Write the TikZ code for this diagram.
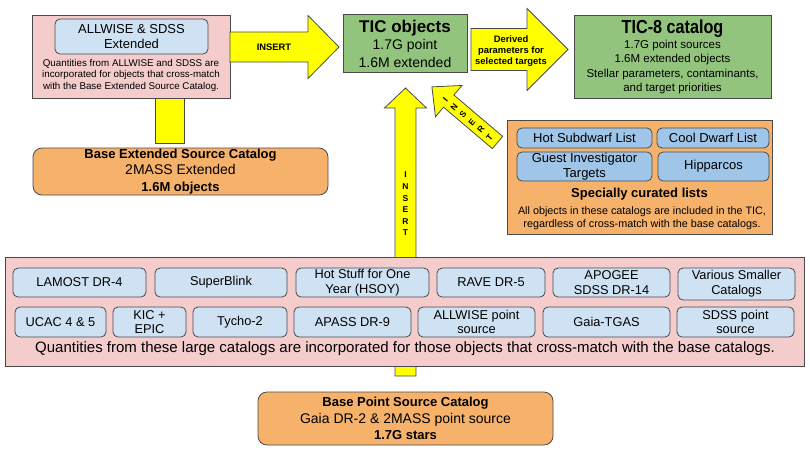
\documentclass[tikz,border=0pt]{standalone}
\usepackage{fontspec}
\setmainfont{Liberation Sans}
\usepackage{tikz}
\usetikzlibrary{positioning}

\definecolor{pinkc}{HTML}{F4CCCC}
\definecolor{bluec}{HTML}{CFE2F3}
\definecolor{blueb}{HTML}{9FC5E8}
\definecolor{orangec}{HTML}{F6B26B}
\definecolor{greenc}{HTML}{93C47D}
\definecolor{yellowc}{HTML}{FFFF00}
\definecolor{linec}{HTML}{4A4A4A}

\newcommand{\fs}[2]{\fontsize{#1}{#2}\selectfont}
% tail, angle, length, shaft half width, head half width, head length
\newcommand{\bigarrow}[6]{%
  \draw[yarrow,shift={#1},rotate=#2] (0,-#4) -- ({#3-#6},-#4) -- ({#3-#6},-#5) -- (#3,0)
    -- ({#3-#6},#5) -- ({#3-#6},#4) -- (0,#4) -- cycle;}

\tikzset{
  box/.style={draw=linec, line width=0.8pt, align=center, inner sep=0pt},
  pinkbox/.style={box, fill=pinkc},
  catbox/.style={box, fill=bluec, rounded corners=5pt, font=\fs{12.8}{14.8}},
  listbox/.style={box, fill=blueb, rounded corners=5pt, font=\fs{13}{15}},
  basebox/.style={box, fill=orangec, rounded corners=9pt, font=\fs{14}{16.5}},
  greenbox/.style={box, fill=greenc},
  yarrow/.style={draw=linec, line width=0.8pt, fill=yellowc},
  arrowlabel/.style={align=center, inner sep=0pt, font=\bfseries\fs{9.4}{11}},
  stacklabel/.style={align=center, inner sep=0pt, font=\bfseries\fs{8.5}{11.6}}
}

\begin{document}
\begin{tikzpicture}[x=1pt,y=-1pt]
  \useasboundingbox (0,0) rectangle (810,451);

  % arrows behind the boxes
  \bigarrow{(405.5,376)}{90}{288}{10.5}{21}{20}
  \node[stacklabel] (insv) at (405.5,204) {I\\N\\S\\E\\R\\T};
  \draw[yarrow] (155,98) rectangle (184,143);

  % extended source side
  \node[pinkbox, minimum width=198, minimum height=83] (ext) at (131,56.5) {};
  \node[catbox, font=\fs{13}{15}, minimum width=153, minimum height=35] (extcat) at (131.5,36.5) {ALLWISE \& SDSS\\Extended};
  \node[align=center, inner sep=0pt, font=\fs{9.8}{11.5}] (exttxt) at (131,75)
    {Quantities from ALLWISE and SDSS are\\incorporated for objects that cross-match\\with the Base Extended Source Catalog.};
  \node[basebox, minimum width=295, minimum height=47] (bext) at (180.5,171.5)
    {{\bfseries\fs{13}{16}Base Extended Source Catalog}\\2MASS Extended\\{\bfseries\fs{13}{16}1.6M objects}};

  \bigarrow{(230,47)}{0}{109}{15}{31.5}{31}
  \node[arrowlabel] (insh) at (274,47) {INSERT};

  % TIC
  \node[greenbox, minimum width=124, minimum height=58, font=\fs{14}{17.5}] (tic) at (405,43.5)
    {{\bfseries\fs{17}{18}TIC objects}\\1.7G point\\1.6M extended};

  \bigarrow{(471,49.5)}{0}{97}{21}{41}{41}
  \node[arrowlabel] (der) at (511,51) {Derived\\parameters for\\selected targets};

  \node[greenbox, minimum width=197, minimum height=83, font=\fs{11.5}{14.5}] (tic8) at (672.5,57)
    {\scalebox{0.9}[1.05]{\bfseries\fs{18}{18}TIC-8 catalog}\\1.7G point sources\\1.6M extended objects\\Stellar parameters, contaminants,\\and target priorities};

  % curated lists
  \bigarrow{(497.5,142.5)}{139.7}{86}{8}{20.5}{22}
  \node[stacklabel, rotate=49.7] (insd) at (467.5,118.5) {I\\N\\S\\E\\R\\T};

  \node[box, fill=orangec, minimum width=265, minimum height=114] (cur) at (639.5,177) {};
  \node[listbox, minimum width=135, minimum height=20] (hsd) at (584.5,138) {Hot Subdwarf List};
  \node[listbox, minimum width=112, minimum height=20] (cdl) at (713,138) {Cool Dwarf List};
  \node[listbox, minimum width=135, minimum height=29] (gui) at (584.5,166.5) {Guest Investigator\\Targets};
  \node[listbox, minimum width=111, minimum height=29] (hip) at (713.5,166.5) {Hipparcos};
  \node[inner sep=0pt, font=\bfseries\fs{13}{15}] (curtitle) at (639.5,194) {Specially curated lists};
  \node[align=center, inner sep=0pt, font=\fs{10.8}{12.5}] (curtxt) at (642,218)
    {All objects in these catalogs are included in the TIC,\\regardless of cross-match with the base catalogs.};

  % large catalogs
  \node[pinkbox, minimum width=799, minimum height=109] (big) at (404.5,311.5) {};
  \node[catbox, minimum width=133, minimum height=29] (lamost) at (79.5,282.5) {LAMOST DR-4};
  \node[catbox, minimum width=132, minimum height=29] (sblink) at (221,282.5) {SuperBlink};
  \node[catbox, minimum width=133, minimum height=29] (hsoy) at (362.5,282.5) {Hot Stuff for One\\Year (HSOY)};
  \node[catbox, minimum width=108, minimum height=29] (rave) at (491,282.5) {RAVE DR-5};
  \node[catbox, minimum width=117, minimum height=29] (apogee) at (611.5,282.5) {APOGEE\\SDSS DR-14};
  \node[catbox, minimum width=117, minimum height=32] (various) at (736.5,284) {Various Smaller\\Catalogs};
  \node[catbox, minimum width=91, minimum height=30] (ucac) at (60.5,322) {UCAC 4 \& 5};
  \node[catbox, minimum width=73, minimum height=30] (kic) at (149.5,322) {KIC +\\EPIC};
  \node[catbox, minimum width=94, minimum height=30] (tycho) at (240,322) {Tycho-2};
  \node[catbox, minimum width=117, minimum height=30] (apass) at (352.5,322) {APASS DR-9};
  \node[catbox, minimum width=117, minimum height=30] (allwisept) at (476.5,322) {ALLWISE point\\source};
  \node[catbox, minimum width=127, minimum height=30] (tgas) at (606.5,322) {Gaia-TGAS};
  \node[catbox, minimum width=117, minimum height=30] (sdsspt) at (735.5,322) {SDSS point\\source};
  \node[inner sep=0pt, font=\fs{15}{17}] (bigtxt) at (405,349)
    {Quantities from these large catalogs are incorporated for those objects that cross-match with the base catalogs.};

  \node[basebox, minimum width=295, minimum height=53] (bpt) at (405.5,418.5)
    {{\bfseries\fs{13}{16.5}Base Point Source Catalog}\\Gaia DR-2 \& 2MASS point source\\{\bfseries\fs{13}{16.5}1.7G stars}};
\end{tikzpicture}
\end{document}
